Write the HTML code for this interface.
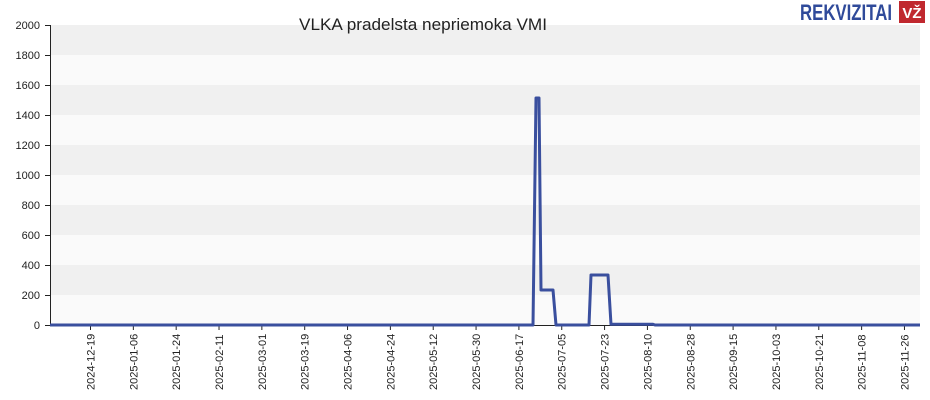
<!DOCTYPE html>
<html><head><meta charset="utf-8"><style>body{margin:0;background:#fff}svg{display:block}</style></head>
<body>
<svg width="930" height="400" xmlns="http://www.w3.org/2000/svg" font-family="Liberation Sans, sans-serif">
<rect width="930" height="400" fill="#fff"/>
<rect x="50" y="25" width="870" height="300" fill="#fafafa"/>
<g fill="#f0f0f0">
<rect x="50" y="25" width="870" height="30"/>
<rect x="50" y="85" width="870" height="30"/>
<rect x="50" y="145" width="870" height="30"/>
<rect x="50" y="205" width="870" height="30"/>
<rect x="50" y="265" width="870" height="30"/>
</g>
<text x="423" y="30" font-size="17" text-anchor="middle" fill="#222" textLength="248" lengthAdjust="spacingAndGlyphs">VLKA pradelsta nepriemoka VMI</text>
<g font-size="11" text-anchor="end" fill="#222">
<text x="40" y="329">0</text><text x="40" y="299">200</text><text x="40" y="269">400</text>
<text x="40" y="239">600</text><text x="40" y="209">800</text><text x="40" y="179">1000</text>
<text x="40" y="149">1200</text><text x="40" y="119">1400</text><text x="40" y="89">1600</text>
<text x="40" y="59">1800</text><text x="40" y="29">2000</text>
</g>
<g stroke="#222" stroke-width="1">
<line x1="50.5" y1="25" x2="50.5" y2="325"/>
<line x1="50" y1="325.5" x2="920" y2="325.5"/>
<line x1="45" y1="325.5" x2="50" y2="325.5"/><line x1="45" y1="295.5" x2="50" y2="295.5"/>
<line x1="45" y1="265.5" x2="50" y2="265.5"/><line x1="45" y1="235.5" x2="50" y2="235.5"/>
<line x1="45" y1="205.5" x2="50" y2="205.5"/><line x1="45" y1="175.5" x2="50" y2="175.5"/>
<line x1="45" y1="145.5" x2="50" y2="145.5"/><line x1="45" y1="115.5" x2="50" y2="115.5"/>
<line x1="45" y1="85.5" x2="50" y2="85.5"/><line x1="45" y1="55.5" x2="50" y2="55.5"/>
<line x1="45" y1="25.5" x2="50" y2="25.5"/>
</g>
<g id="ticks" stroke="#222" font-size="11" fill="#222"></g>
<polyline fill="none" stroke="#3a4f9e" stroke-width="3" stroke-linejoin="round" points="50,325 533,325 536,98 539,98 541,290 553,290 556,325 589,325 591,275 608,275 611,324.3 653,324.3 655,325 920,325"/>
<text x="800" y="20" font-size="22" font-weight="bold" fill="#2f4a9a" textLength="92" lengthAdjust="spacingAndGlyphs">REKVIZITAI</text>
<rect x="899" y="1" width="26" height="22" fill="#c0282e"/>
<text x="912" y="18" font-size="15" font-weight="bold" fill="#fff" text-anchor="middle">VŽ</text>
</svg>
<script>
var d=["2024-12-19","2025-01-06","2025-01-24","2025-02-11","2025-03-01","2025-03-19","2025-04-06","2025-04-24","2025-05-12","2025-05-30","2025-06-17","2025-07-05","2025-07-23","2025-08-10","2025-08-28","2025-09-15","2025-10-03","2025-10-21","2025-11-08","2025-11-26"];
var g=document.getElementById("ticks"),h="";
d.forEach(function(s,i){var x=90.5+i*42.84;h+='<line x1="'+x+'" y1="325" x2="'+x+'" y2="330"/><text stroke="none" transform="translate('+(x+4)+',390) rotate(-90)">'+s+'</text>';});
g.innerHTML=h;
</script>
</body></html>
